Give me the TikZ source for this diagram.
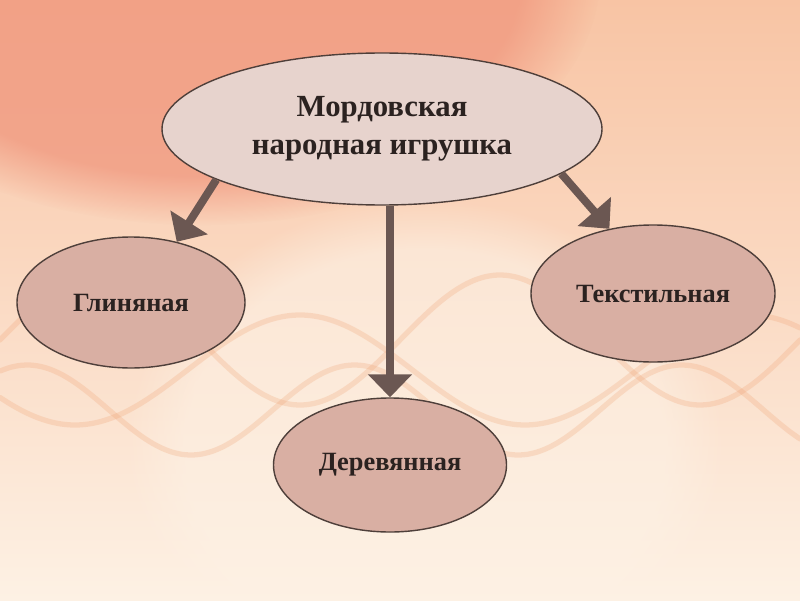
\documentclass[tikz,border=0pt]{standalone}
\usepackage{fontspec}
\setmainfont{Liberation Serif}
\usepackage{xcolor}
\usetikzlibrary{arrows.meta,shapes.geometric,positioning,fadings}

\definecolor{bgtop}{HTML}{F8C4A4}
\definecolor{bglow}{HTML}{FDF1E4}
\definecolor{glow}{HTML}{F0937A}
\definecolor{wavecol}{HTML}{F0A070}
\definecolor{rootfill}{HTML}{E7D3CD}
\definecolor{leaffill}{HTML}{D9AFA3}
\definecolor{rimcol}{HTML}{4E3F3A}
\definecolor{arrcol}{HTML}{6B5752}
\definecolor{txtcol}{HTML}{2B2220}

\begin{document}
\begin{tikzpicture}
			\tikzstyle{every node}=[font=\bfseries, text=txtcol]
			\tikzstyle{oval}=[ellipse, draw=rimcol, line width=0.8pt, inner sep=0pt, align=center]
			\tikzstyle{leaf}=[oval, fill=leaffill, font=\fontsize{15}{18}\bfseries]
			\tikzstyle{wave}=[wavecol, line width=3pt, opacity=0.25, line cap=round]
			
			% background
			\useasboundingbox (0,0) rectangle (16,12);
			\shade[top color=bgtop, bottom color=bglow] (0,0) rectangle (16,12);
			\fill[glow, opacity=0.7, path fading=circle with fuzzy edge 20 percent] (4,12.5) ellipse (8 and 5);
			\fill[bglow, opacity=0.6, path fading=circle with fuzzy edge 20 percent] (8.5,3) ellipse (6 and 5);
			\draw[wave] plot[domain=0:16, samples=80, smooth] (\x, {5.2+1.3*sin(45*\x)});
			\draw[wave] plot[domain=0:16, samples=80, smooth] (\x, {4.6-1.1*sin(40*\x+30)});
			\draw[wave] plot[domain=0:16, samples=80, smooth] (\x, {3.8+0.9*sin(55*\x+60)});
			
			\node[oval, fill=rootfill, minimum width=8.8cm, minimum height=3.04cm,
			      font=\fontsize{17.5}{21.5}\bfseries] (root) at (7.64, 9.42)
			      {Мордовская\\народная игрушка};
			
			\node[leaf, minimum width=4.56cm, minimum height=2.62cm] (clay)  at (2.62, 5.95) {Глиняная};
			\node[leaf, minimum width=4.88cm, minimum height=2.74cm] (cloth) at (13.06, 6.13) {Текстильная};
			\node[leaf, minimum width=4.66cm, minimum height=2.68cm] (wood)  at (7.80, 2.70) {Деревянная};
			
			\path[arrcol, line width=4.5pt, -{Triangle[width=0.86cm, length=0.46cm]}]
			(root.197) edge (clay.53)
			(root.south -| wood.north) edge (wood.north)
			(root.346) edge (cloth.124)
			;
			\end{tikzpicture}
\end{document}
